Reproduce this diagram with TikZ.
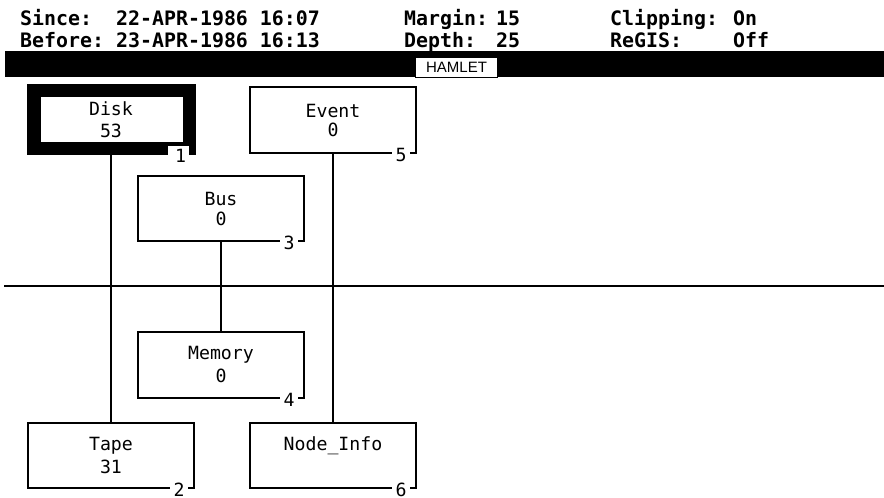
\documentclass[tikz,border=0pt]{standalone}
\usepackage{fontspec}
\newfontfamily\termfont{DejaVu Sans Mono}
\newfontfamily\labfont{Liberation Sans}
\begin{document}
\begin{tikzpicture}[x=1pt,y=-1pt,
  hdr/.style={font=\termfont\bfseries\fontsize{19.9}{22}\selectfont, anchor=base west, inner sep=0pt},
  boxarea/.style={minimum width=166pt, minimum height=65pt, inner sep=0pt, outer sep=0pt},
  boxtxt/.style={font=\termfont\fontsize{18.2}{20}\selectfont, anchor=base, inner sep=0pt},
  numtxt/.style={font=\termfont\fontsize{18.2}{20}\selectfont, inner sep=0pt},
  edge/.style={line width=1.8pt, line cap=rect},
  conn/.style={line width=1.8pt}]
\useasboundingbox (0,0) rectangle (884,498);
\fill[white] (0,0) rectangle (884,498);

% header
\node[hdr] (since)  at (20,25)  {Since:};
\node[hdr] (sincev) at (116,25) {22-APR-1986 16:07};
\node[hdr] (before) at (20,47)  {Before:};
\node[hdr] (beforev) at (116,47) {23-APR-1986 16:13};
\node[hdr] (margin) at (404,25) {Margin:};
\node[hdr] (marginv) at (496,25) {15};
\node[hdr] (depth)  at (404,47) {Depth:};
\node[hdr] (depthv) at (496,47) {25};
\node[hdr] (clip)   at (610,25) {Clipping:};
\node[hdr] (clipv)  at (733,25) {On};
\node[hdr] (regis)  at (610,47) {ReGIS:};
\node[hdr] (regisv) at (733,47) {Off};

% title bar
\fill[black] (5,51) rectangle (884,77);
\node[draw=black, fill=white, line width=0.8pt, minimum width=82pt, minimum height=20pt, inner sep=0pt,
      font=\labfont\fontsize{15}{15}\selectfont] (hamlet) at (456.5,67) {HAMLET};

% horizontal divider
\draw[line width=2.2pt] (4,286) -- (884,286);

% box nodes
\node[boxarea, minimum width=169pt, minimum height=71pt] (disk) at (111,119.5) {};
\node[boxarea, minimum height=66pt] (event) at (333,120) {};
\node[boxarea] (bus) at (221,208.5) {};
\node[boxarea, minimum height=66pt] (memory) at (221,365) {};
\node[boxarea] (tape) at (111,455.5) {};
\node[boxarea] (nodeinfo) at (333,455.5) {};

% connectors
\draw[conn] (disk.south) -- (tape.north);
\draw[conn] (bus.south) -- (memory.north);
\draw[conn] (event.south) -- (nodeinfo.north);

% thick Disk box
\fill[black] (disk.south west) rectangle (disk.north east);
\fill[white] ([xshift=14pt,yshift=-13pt]disk.north west) rectangle ([xshift=-13pt,yshift=13pt]disk.south east);
\fill[white] ([xshift=-28pt,yshift=9pt]disk.south east) rectangle ([xshift=-7pt,yshift=-0.5pt]disk.south east);
\node[numtxt] (disk-n) at ([xshift=-15pt,yshift=-1pt]disk.south east) {1};
\node[boxtxt] (disk-a) at ([yshift=-31pt]disk.north) {Disk};
\node[boxtxt] (disk-b) at ([yshift=-53pt]disk.north) {53};

% normal boxes
\foreach \b/\n in {event/5, bus/3, memory/4, tape/2, nodeinfo/6}{
  \draw[edge] (\b.south west) -- (\b.north west) -- (\b.north east) -- (\b.south east) -- ([xshift=-5pt]\b.south east);
  \draw[edge] (\b.south west) -- ([xshift=-25pt]\b.south east);
  \node[numtxt] (\b-n) at ([xshift=-15pt,yshift=-2pt]\b.south east) {\n};
}
\node[boxtxt] (event-a) at ([yshift=-30pt]event.north) {Event};
\node[boxtxt] (event-b) at ([yshift=-49pt]event.north) {0};
\node[boxtxt] (bus-a) at ([yshift=-29pt]bus.north) {Bus};
\node[boxtxt] (bus-b) at ([yshift=-49pt]bus.north) {0};
\node[boxtxt] (memory-a) at ([yshift=-27pt]memory.north) {Memory};
\node[boxtxt] (memory-b) at ([yshift=-50pt]memory.north) {0};
\node[boxtxt] (tape-a) at ([yshift=-27pt]tape.north) {Tape};
\node[boxtxt] (tape-b) at ([yshift=-50pt]tape.north) {31};
\node[boxtxt] (nodeinfo-a) at ([yshift=-27pt]nodeinfo.north) {Node\_Info};
\end{tikzpicture}
\end{document}
